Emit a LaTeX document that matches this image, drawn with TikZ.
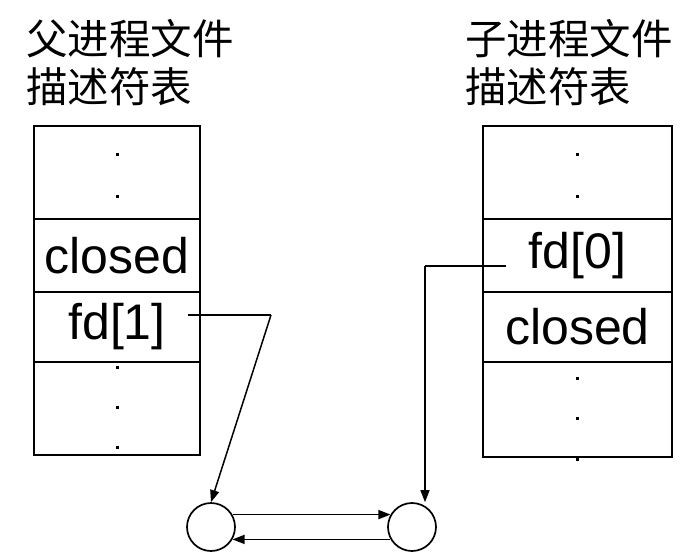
\documentclass[tikz,border=0pt]{standalone}
\usepackage{fontspec}
\setmainfont{Liberation Sans}
\newfontfamily\cjk{Noto Sans CJK SC}
\usetikzlibrary{positioning}
\usetikzlibrary{arrows.meta}
\tikzset{
    cellnode/.style = {rectangle, draw=black, line width=2.2pt, inner sep=0, align=center,font=\fontsize{50}{54}\selectfont,text=black},
    titlenode/.style = {inner sep=0, align=left,font=\cjk\fontsize{41.5}{48}\selectfont,text=black},
    dotnode/.style = {rectangle, fill=black, minimum size=3pt, inner sep=0},
    pipenode/.style = {circle, draw=black, line width=1.7pt, minimum size=48pt, inner sep=0},
    linkn/.style = {-{Triangle[length=12pt,width=9pt]},line width=1.5pt,black},
    linkp/.style = {-,line width=1.5pt,black}
}

\begin{document}
\begin{tikzpicture}[x=1pt,y=-1pt]
\useasboundingbox (0,0) rectangle (697,552);

% parent table
\node[titlenode, anchor=west] at (26, 63) (ptitle) {父进程文件\\描述符表};
\node[cellnode, minimum width=166pt, minimum height=93pt] at (117, 172.5) (p1) {};
\node[cellnode, minimum width=166pt, minimum height=73pt] at (117, 255.5) (p2) {closed};
\node[cellnode, minimum width=166pt, minimum height=70pt] at (117, 327) (p3) {fd[1]};
\node[cellnode, minimum width=166pt, minimum height=93pt] at (117, 408.5) (p4) {};

% child table
\node[titlenode, anchor=west] at (465, 63) (ctitle) {子进程文件\\描述符表};
\node[cellnode, minimum width=189pt, minimum height=93pt] at (577.5, 172.5) (c1) {};
\node[cellnode, minimum width=189pt, minimum height=73pt] at (577.5, 255.5) (c2) {fd[0]};
\node[cellnode, minimum width=189pt, minimum height=70pt] at (577.5, 327) (c3) {closed};
\node[cellnode, minimum width=189pt, minimum height=95pt] at (577.5, 409.5) (c4) {};

% dots
\foreach \y [count=\i] in {154,196,367,407,447}
    \node[dotnode] at (117, \y) (pd\i) {};
\foreach \y [count=\i] in {154,196,378,418,459}
    \node[dotnode] at (577, \y) (cd\i) {};

% pipe ends
\node[pipenode] at (211, 527) (wend) {};
\node[pipenode] at (412, 527) (rend) {};

\coordinate (fdw) at (188, 315);
\coordinate (bendw) at (271, 315);
\coordinate (fdr) at (506, 266);
\coordinate (bendr) at (425, 266);

\draw[linkp] (fdw) -- (bendw);
\draw[linkn] (bendw) -- (wend.north);
\draw[linkp] (fdr) -- (bendr);
\draw[linkn] (bendr) -- (bendr |- rend.north);
\draw[linkn] (wend.30) -- (rend.150);
\draw[linkn] (rend.210) -- (wend.-30);

\end{tikzpicture}
\end{document}
